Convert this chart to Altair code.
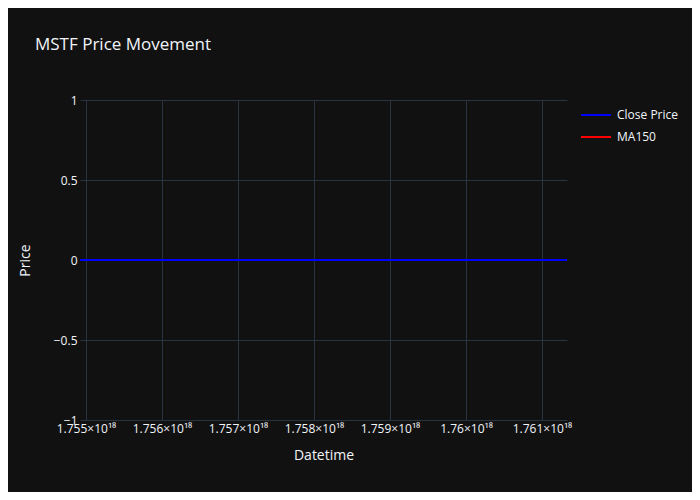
import altair as alt
import pandas as pd

# Data (Datetime as nanosecond integers, price values)
datetimes = [1.754921e18, 1.756000e18, 1.757500e18, 1.759000e18, 1.760500e18, 1.761329e18]
close_price = [0, 0, 0, 0, 0, 0]
series_names = ["Close Price", "MA150"]
series_colors = ["blue", "red"]
x_ticks = [1.755e18, 1.756e18, 1.757e18, 1.758e18, 1.759e18, 1.760e18, 1.761e18]
y_ticks = [-1, -0.5, 0, 0.5, 1]

df = pd.DataFrame({"Datetime": datetimes, "Price": close_price, "Series": "Close Price"})

FONT = "Open Sans"
TXT = "#f2f5fa"
GRID = "#283442"

chart = alt.Chart(df).mark_line(strokeWidth=2, clip=True).encode(
    x=alt.X("Datetime:Q",
            scale=alt.Scale(domain=[datetimes[0], datetimes[-1]], nice=False, zero=False),
            axis=alt.Axis(title="Datetime", values=x_ticks,
                          labelExpr="format(datum.value/1e18, '.4~f') + '×10¹⁸'",
                          titleY=35, titleBaseline="middle", labelPadding=3)),
    y=alt.Y("Price:Q",
            scale=alt.Scale(domain=[-1, 1], nice=False, zero=False),
            axis=alt.Axis(title="Price", values=y_ticks, format="~f", titleX=-55, titleY=160,
                          titleBaseline="middle", titleAngle=-90, labelPadding=3)),
    color=alt.Color("Series:N",
                    scale=alt.Scale(domain=series_names, range=series_colors),
                    legend=alt.Legend(title=None, orient="none", legendX=500, legendY=-1,
                                      symbolType="stroke", symbolSize=900, symbolStrokeWidth=2,
                                      labelFontSize=12, labelColor=TXT, labelFont=FONT,
                                      padding=0, rowPadding=-14, labelOffset=5)),
).properties(
    width=487, height=320,
    title=alt.TitleParams("MSTF Price Movement", anchor="start", frame="group", dx=-45, offset=40,
                          fontSize=17, font=FONT, color=TXT, fontWeight="normal"),
    padding={"left": 72, "top": 92, "right": 125, "bottom": 72},
    autosize=alt.AutoSizeParams(type="none"),
    background="#111111",
).configure_view(stroke=None).configure_axis(
    grid=True, gridColor=GRID, gridWidth=1, domain=False, ticks=False,
    labelColor=TXT, labelFont=FONT, labelFontSize=12, titleColor=TXT,
    titleFont=FONT, titleFontSize=14, titleFontWeight="normal",
)

chart.save("out.html", embed_options={"renderer": "svg", "actions": False})
